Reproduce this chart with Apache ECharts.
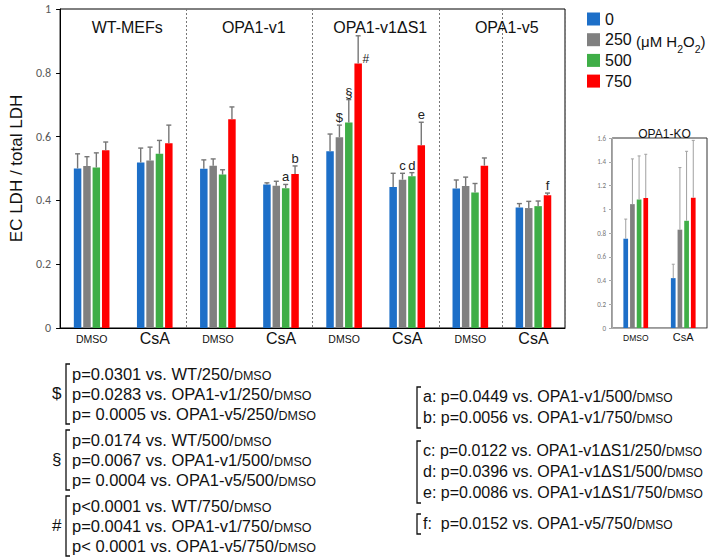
<!DOCTYPE html>
<html>
<head>
<meta charset="utf-8">
<script src="https://cdn.jsdelivr.net/npm/echarts@6/dist/echarts.min.js"></script>
<style>html,body{margin:0;padding:0;background:#fff}#c{width:713px;height:560px}</style>
</head>
<body>
<div id="c"></div>
<script>
// ---------------- data ----------------
const categories = ['DMSO','CsA','DMSO','CsA','DMSO','CsA','DMSO','CsA'];
const panels = ['WT-MEFs','OPA1-v1','OPA1-v1\u0394S1','OPA1-v5'];
const concentrations = ['0','250','500','750'];
const yTicks = [0, 0.2, 0.4, 0.6, 0.8, 1];

const mean0   = [0.500, 0.519, 0.499, 0.450, 0.554, 0.442, 0.437, 0.378];
const mean250 = [0.508, 0.525, 0.509, 0.446, 0.598, 0.465, 0.445, 0.376];
const mean500 = [0.503, 0.546, 0.481, 0.438, 0.644, 0.476, 0.425, 0.382];
const mean750 = [0.557, 0.579, 0.654, 0.483, 0.829, 0.573, 0.509, 0.416];

const err0   = [0.046, 0.045, 0.028, 0.005, 0.054, 0.043, 0.027, 0.012];
const err250 = [0.029, 0.042, 0.021, 0.014, 0.038, 0.020, 0.028, 0.021];
const err500 = [0.046, 0.042, 0.015, 0.012, 0.072, 0.011, 0.028, 0.016];
const err750 = [0.026, 0.057, 0.039, 0.025, 0.087, 0.072, 0.024, 0.007];

const mark0   = ['', '', '', '',  '',  '',  '', ''];
const mark250 = ['', '', '', '',  '$', 'c', '', ''];
const mark500 = ['', '', '', 'a', '\u00a7', 'd', '', ''];
const mark750 = ['', '', '', 'b', '#', 'e', '', 'f'];

// inset OPA1-KO
const koCategories = ['DMSO','CsA'];
const koTicks = [0,0.2,0.4,0.6,0.8,1,1.2,1.4,1.6];
const ko0   = [0.752, 0.420];
const ko250 = [1.043, 0.828];
const ko500 = [1.083, 0.903];
const ko750 = [1.094, 1.097];
const koErr0   = [0.165, 0.117];
const koErr250 = [0.381, 0.523];
const koErr500 = [0.366, 0.585];
const koErr750 = [0.369, 0.483];

// statistics notes
const statsLeft = [
  {sym: '$', lines: [['p=0.0301 vs. WT/250/','DMSO'],['p=0.0283 vs. OPA1-v1/250/','DMSO'],['p= 0.0005 vs. OPA1-v5/250/','DMSO']]},
  {sym: '\u00a7', lines: [['p=0.0174 vs. WT/500/','DMSO'],['p=0.0067 vs. OPA1-v1/500/','DMSO'],['p= 0.0004 vs. OPA1-v5/500/','DMSO']]},
  {sym: '#', lines: [['p<0.0001 vs. WT/750/','DMSO'],['p=0.0041 vs. OPA1-v1/750/','DMSO'],['p< 0.0001 vs. OPA1-v5/750/','DMSO']]}
];
const statsRight = [
  {lines: [['a: p=0.0449 vs. OPA1-v1/500/','DMSO'],['b: p=0.0056 vs. OPA1-v1/750/','DMSO']]},
  {lines: [['c: p=0.0122 vs. OPA1-v1\u0394S1/250/','DMSO'],['d: p=0.0396 vs. OPA1-v1\u0394S1/500/','DMSO'],['e: p=0.0086 vs. OPA1-v1\u0394S1/750/','DMSO']]},
  {lines: [['f:  p=0.0152 vs. OPA1-v5/750/','DMSO']]}
];

// ---------------- style ----------------
const FONT = 'Liberation Sans, Arial, sans-serif';
const colors = ['#1d6fc8', '#808080', '#3fae47', '#ff0000'];
const GRID = {left: 59, top: 9, width: 506, height: 319};
const INSET = {left: 612, top: 138, width: 95, height: 190};
const BAR_W = 7.5, BAR_GAP = 0.25;
const KO_BAR_W = 4.7, KO_BAR_GAP = 0.42;

const means = [mean0, mean250, mean500, mean750];
const errs = [err0, err250, err500, err750];
const marks = [mark0, mark250, mark500, mark750];
const koMeans = [ko0, ko250, ko500, ko750];
const koErrs = [koErr0, koErr250, koErr500, koErr750];

function errRenderer(k, barW, gapFrac, capW, color, lw, markArr) {
  return function (params, api) {
    const x = api.value(0), y = api.value(1), e = api.value(2);
    const base = api.coord([x, y]);
    const top = api.coord([x, y + e]);
    const step = barW * (1 + gapFrac);
    const cx = base[0] + (k - 1.5) * step;
    const children = [
      {type: 'line', shape: {x1: cx, y1: base[1], x2: cx, y2: top[1]}, style: {stroke: color, lineWidth: lw}},
      {type: 'line', shape: {x1: cx - capW / 2, y1: top[1], x2: cx + capW / 2, y2: top[1]}, style: {stroke: color, lineWidth: lw}}
    ];
    const m = markArr ? markArr[params.dataIndex] : '';
    if (m) {
      if (m === '#') {
        children.push({type: 'text', style: {text: m, x: cx + barW / 2 + 0.5, y: base[1] + 1, align: 'left', verticalAlign: 'bottom', fontSize: 12, fontFamily: FONT, fill: '#222'}});
      } else {
        children.push({type: 'text', style: {text: m, x: cx, y: top[1] - 1, align: 'center', verticalAlign: 'bottom', fontSize: 13, fontFamily: FONT, fill: '#222'}});
      }
    }
    return {type: 'group', children: children};
  };
}

const series = [];
concentrations.forEach((c, k) => {
  series.push({type: 'bar', name: c, xAxisIndex: 0, yAxisIndex: 0, data: means[k], barWidth: BAR_W, barGap: (BAR_GAP * 100) + '%', itemStyle: {color: colors[k]}, silent: true});
});
concentrations.forEach((c, k) => {
  series.push({type: 'custom', xAxisIndex: 0, yAxisIndex: 0, z: 5, silent: true,
    renderItem: errRenderer(k, BAR_W, BAR_GAP, 5, '#767676', 1.4, marks[k]),
    encode: {x: 0, y: 1},
    data: means[k].map((m, i) => [i, m, errs[k][i]])});
});
concentrations.forEach((c, k) => {
  series.push({type: 'bar', name: c, xAxisIndex: 1, yAxisIndex: 1, data: koMeans[k], barWidth: KO_BAR_W, barGap: (KO_BAR_GAP * 100) + '%', itemStyle: {color: colors[k]}, silent: true});
});
concentrations.forEach((c, k) => {
  series.push({type: 'custom', xAxisIndex: 1, yAxisIndex: 1, z: 5, silent: true,
    renderItem: errRenderer(k, KO_BAR_W, KO_BAR_GAP, 3, '#a0a0a0', 1, null),
    encode: {x: 0, y: 1},
    data: koMeans[k].map((m, i) => [i, m, koErrs[k][i]])});
});

// panel titles
const titles = panels.map((p, i) => ({
  text: p, left: GRID.left + (i + 0.5) * GRID.width / panels.length, top: 14, textAlign: 'center',
  textStyle: {fontSize: 16, fontWeight: 'normal', color: '#111', fontFamily: FONT}
}));
titles.push({text: 'OPA1-KO', left: INSET.left + INSET.width / 2, top: 123, textAlign: 'center',
  textStyle: {fontSize: 12, fontWeight: 'normal', color: '#111', fontFamily: FONT}});

// graphic notes
const graphics = [];
function makeRich(nSize, sSize) {
  return {
    n: {fontSize: nSize, fontFamily: FONT, fill: '#111', lineHeight: 20, verticalAlign: 'bottom'},
    s: {fontSize: sSize, fontFamily: FONT, fill: '#111', lineHeight: 18, verticalAlign: 'bottom'}
  };
}
function addBlock(block, textX, firstY, lineGap, brX, symX, rich) {
  block.lines.forEach((ln, j) => {
    graphics.push({type: 'text', left: textX, top: firstY + j * lineGap - 10,
      style: {text: '{n|' + ln[0] + '}{s|' + ln[1] + '}', rich: rich, fill: '#111'}});
  });
  const yTop = firstY - 11, yBot = firstY + (block.lines.length - 1) * lineGap + 9;
  graphics.push({type: 'polyline', shape: {points: [[brX + 4, yTop], [brX, yTop], [brX, yBot], [brX + 4, yBot]]},
    style: {stroke: '#111', lineWidth: 1.3, fill: null}});
  if (block.sym) {
    graphics.push({type: 'text', left: symX, top: (yTop + yBot) / 2 - 9,
      style: {text: block.sym, fontSize: 17, fontFamily: FONT, fill: '#111'}});
  }
}
const richL = makeRich(16.5, 12.5);
const richR = makeRich(16, 12);
addBlock(statsLeft[0], 72, 375, 20, 66, 52, richL);
addBlock(statsLeft[1], 72, 441, 20, 66, 52, richL);
addBlock(statsLeft[2], 72, 507, 20, 66, 52, richL);
addBlock(statsRight[0], 423, 398, 21, 417, 0, richR);
addBlock(statsRight[1], 423, 452, 21, 417, 0, richR);
addBlock(statsRight[2], 423, 525, 21, 417, 0, richR);

graphics.push({type: 'text', left: 636, top: 34, style: {
  text: '{a|(\u03bcM H}{s|2}{a|O}{s|2}{a|)}',
  rich: {
    a: {fontSize: 15, fontFamily: FONT, fill: '#111', lineHeight: 26, verticalAlign: 'middle'},
    s: {fontSize: 10.5, fontFamily: FONT, fill: '#111', lineHeight: 14, verticalAlign: 'bottom'}
  }
}});

const chart = echarts.init(document.getElementById('c'), null, {renderer: 'svg'});
chart.setOption({
  animation: false,
  backgroundColor: '#fff',
  title: titles,
  legend: {
    data: concentrations, orient: 'vertical', left: 582, top: 6, icon: 'rect',
    itemWidth: 13, itemHeight: 13, itemGap: 4.7,
    textStyle: {fontSize: 16, color: '#111', fontFamily: FONT}
  },
  grid: [
    Object.assign({show: true, borderColor: '#000', borderWidth: 1}, GRID),
    Object.assign({show: true, borderColor: '#333', borderWidth: 1}, INSET)
  ],
  xAxis: [
    {type: 'category', gridIndex: 0, data: categories,
     axisLine: {lineStyle: {color: '#000'}}, axisTick: {show: false},
     splitLine: {show: true, interval: 1, lineStyle: {color: '#777', type: [2, 2], width: 1}},
     axisLabel: {interval: 0, margin: 2, formatter: v => v === 'DMSO' ? '{s|DMSO}' : '{b|CsA}',
       rich: {s: {fontSize: 10.5, fontFamily: FONT, color: '#111', lineHeight: 12, padding: [5, 0, 0, 0]},
              b: {fontSize: 16, fontFamily: FONT, color: '#111', lineHeight: 16}}}},
    {type: 'category', gridIndex: 1, data: koCategories,
     axisLine: {lineStyle: {color: '#aaa'}}, axisTick: {show: false},
     axisLabel: {interval: 0, margin: 3, formatter: v => v === 'DMSO' ? '{s|DMSO}' : '{b|CsA}',
       rich: {s: {fontSize: 8.5, fontFamily: FONT, color: '#111', lineHeight: 10, padding: [3, 0, 0, 0]},
              b: {fontSize: 11, fontFamily: FONT, color: '#111', lineHeight: 12}}}}
  ],
  yAxis: [
    {type: 'value', gridIndex: 0, min: yTicks[0], max: yTicks[yTicks.length - 1], interval: yTicks[1] - yTicks[0],
     name: 'EC LDH / total LDH', nameLocation: 'middle', nameGap: 32,
     nameTextStyle: {fontSize: 17, color: '#111', fontFamily: FONT},
     axisLine: {show: true, lineStyle: {color: '#000'}},
     axisTick: {show: true, length: 4, lineStyle: {color: '#000'}},
     splitLine: {show: false},
     axisLabel: {fontSize: 12, color: '#595959', margin: 9, fontFamily: 'Carlito, Liberation Sans, sans-serif'}},
    {type: 'value', gridIndex: 1, min: koTicks[0], max: koTicks[koTicks.length - 1], interval: koTicks[1] - koTicks[0],
     axisLine: {show: true, lineStyle: {color: '#aaa'}},
     axisTick: {show: true, length: 3, lineStyle: {color: '#aaa'}},
     splitLine: {show: false},
     axisLabel: {fontSize: 7, color: '#777', margin: 6, fontFamily: 'Carlito, Liberation Sans, sans-serif'}}
  ],
  series: series,
  graphic: graphics
});
</script>
</body>
</html>
